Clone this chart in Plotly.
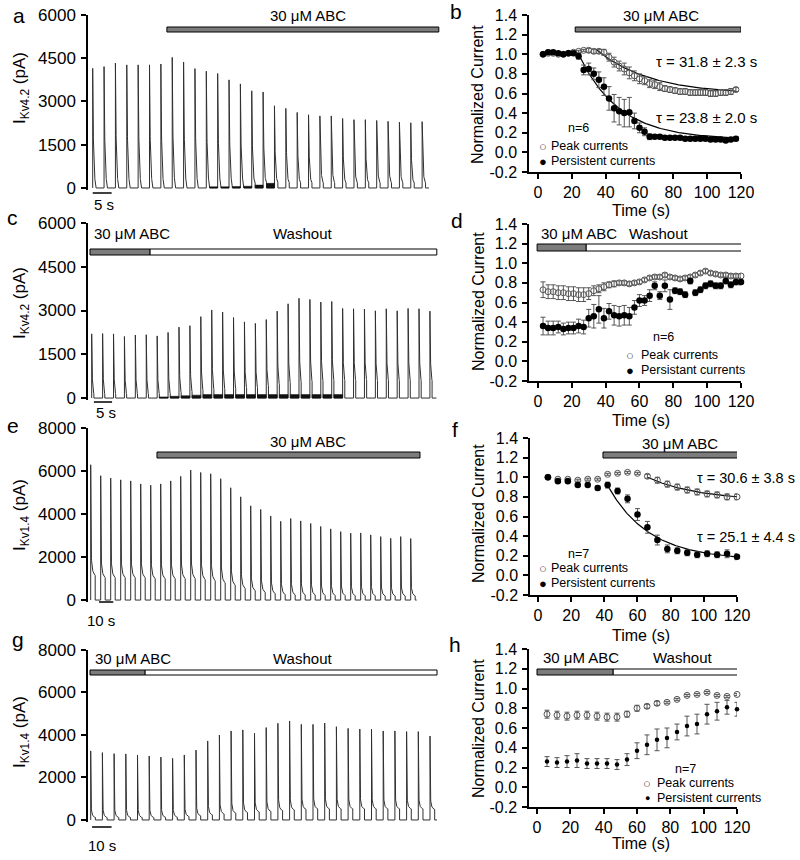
import numpy as np
import plotly.graph_objects as go

W, H = 800, 860
FONT = "Liberation Sans, Arial, Helvetica, sans-serif"
TRACE_COLOR = "#303030"
GRAY = "#7c7c7c"


def X(px):
    return px / W


def Y(py):
    return 1 - py / H


# ======================= DATA =======================
# --- panel a: Kv4.2 current traces (peak / end-of-pulse level per sweep, pA)
a_interval = 3
a_peaks = [4150, 4210, 4330, 4270, 4270, 4270, 4300, 4530, 4370, 4140, 4050, 3970, 3750, 3610, 3370,
           3330, 2850, 2760, 2620, 2540, 2500, 2500, 2410, 2370, 2370, 2340, 2310, 2280, 2260, 2300]
a_persist = [50, 50, 50, 50, 50, 50, 50, 60, 60, 70, 80, 90, 100, 110, 130,
             150, 160, 150, 150, 150, 150, 150, 150, 150, 150, 150, 150, 150, 150, 150]
a_noise = [0, 0, 0, 0, 0, 0, 0, 0, 0, 0, 40, 40, 50, 60, 100,
           160, 0, 0, 0, 0, 0, 0, 0, 0, 0, 0, 0, 0, 0, 0]
a_abc_span = [19.6, 91.4]
a_scale = [0, 5]

# --- panel c: Kv4.2 washout traces
c_interval = 3
c_peaks = [2200, 2210, 2200, 2110, 2160, 2170, 2130, 2250, 2430, 2480, 2790, 3020, 2950, 2760, 2610, 2560,
           2690, 2980, 3230, 3420, 3380, 3290, 3310, 3070, 3060, 3050, 2990, 3060, 2990, 3070, 3060, 2980]
c_persist = [100, 100, 100, 100, 100, 100, 110, 120, 150, 180, 220, 250, 260, 280, 300, 320,
             380, 430, 480, 500, 520, 540, 560, 560, 560, 570, 560, 570, 560, 570, 560, 560]
c_noise = [0, 0, 0, 0, 0, 0, 40, 60, 80, 100, 120, 120, 120, 120, 120, 120,
           120, 120, 120, 120, 120, 120, 120, 0, 0, 0, 0, 0, 0, 0, 0, 0]
c_abc_span = [-0.47, 16.0]
c_wash_span = [16.0, 94.9]
c_scale = [0.6, 5.6]

# --- panel e: Kv1.4 traces
e_interval = 7
e_peaks = [6290, 5780, 5670, 5590, 5540, 5400, 5340, 5400, 5540, 5750, 6040, 5930, 5870, 5640, 5220, 4800, 4380,
           4210, 3910, 3660, 3790, 3680, 3560, 3420, 3310, 3180, 3110, 3120, 3030, 2950, 2870, 2950, 2860]
e_persist = [1100, 1000, 1000, 1000, 1000, 1000, 950, 950, 950, 950, 950, 900, 850, 750, 650, 500, 400,
             320, 260, 220, 200, 200, 200, 180, 180, 180, 170, 170, 170, 160, 160, 160, 160]
e_abc_span = [46.4, 230.5]
e_scale = [5.8, 15.8]

# --- panel g: Kv1.4 washout traces
g_interval = 6
g_peaks = [3250, 3170, 3120, 3110, 3060, 3010, 2960, 2900, 3060, 3290, 3720, 4000, 4190, 4240, 4080,
           4350, 4550, 4660, 4500, 4500, 4560, 4390, 4310, 4280, 4270, 4190, 4190, 4160, 4160, 3950]
g_persist = [100, 100, 100, 100, 100, 100, 110, 120, 150, 180, 220, 260, 300, 330, 360,
             380, 420, 450, 480, 500, 500, 500, 500, 500, 500, 500, 500, 500, 500, 480]
g_abc_span = [-0.36, 27.8]
g_wash_span = [27.8, 177.6]
g_scale = [0.7, 10.7]

# --- panel b: normalized Kv4.2 currents, ABC application
b_time = [3, 6, 9, 12, 15, 18, 21, 24, 27, 30, 33, 36, 39, 42, 45, 48, 51, 54, 57, 60,
          63, 66, 69, 72, 75, 78, 81, 84, 87, 90, 93, 96, 99, 102, 105, 108, 111, 114, 117]
b_peak = [1.00, 1.01, 1.01, 1.00, 1.00, 1.01, 1.02, 1.03, 1.04, 1.04, 1.03, 1.03, 1.02, 0.97, 0.92, 0.88,
          0.85, 0.81, 0.78, 0.75, 0.73, 0.70, 0.69, 0.67, 0.65, 0.64, 0.63, 0.62, 0.62, 0.61, 0.61, 0.61,
          0.61, 0.60, 0.60, 0.61, 0.61, 0.62, 0.64]
b_peak_err = [0.01, 0.01, 0.01, 0.01, 0.01, 0.01, 0.01, 0.01, 0.01, 0.02, 0.02, 0.02, 0.03, 0.04, 0.05,
              0.05, 0.06, 0.06, 0.05, 0.05, 0.04, 0.04, 0.04, 0.04, 0.03, 0.03, 0.03, 0.03, 0.03, 0.03,
              0.03, 0.03, 0.03, 0.03, 0.03, 0.03, 0.03, 0.03, 0.02]
b_pers = [1.00, 1.02, 1.02, 1.01, 1.00, 1.01, 1.01, 0.98, 0.84, 0.85, 0.80, 0.74, 0.67, 0.55, 0.45, 0.42,
          0.40, 0.41, 0.32, 0.25, 0.21, 0.16, 0.16, 0.16, 0.15, 0.15, 0.15, 0.15, 0.14, 0.14, 0.14, 0.14,
          0.14, 0.13, 0.13, 0.13, 0.12, 0.13, 0.14]
b_pers_err = [0.01, 0.01, 0.01, 0.01, 0.01, 0.01, 0.01, 0.03, 0.05, 0.06, 0.06, 0.08, 0.09, 0.12, 0.14,
              0.14, 0.14, 0.15, 0.08, 0.05, 0.04, 0.03, 0.02, 0.02, 0.02, 0.02, 0.02, 0.02, 0.02, 0.02,
              0.02, 0.02, 0.02, 0.02, 0.02, 0.02, 0.02, 0.02, 0.02]
b_abc_span = [22, 120]
b_fit_peak = [35, 117, 0.59, 0.45, 31.8]   # start, end, plateau, amplitude, tau
b_fit_pers = [24, 117, 0.13, 0.87, 23.8]

# --- panel d: normalized Kv4.2 currents, washout
d_time = [3, 6, 9, 12, 15, 18, 21, 24, 27, 30, 33, 36, 39, 42, 45, 48, 51, 54, 57, 60,
          63, 66, 69, 72, 75, 78, 81, 84, 87, 90, 93, 96, 99, 102, 105, 108, 111, 114, 117, 120]
d_peak = [0.73, 0.71, 0.71, 0.70, 0.70, 0.69, 0.69, 0.68, 0.68, 0.69, 0.72, 0.74, 0.76, 0.78, 0.79, 0.80,
          0.80, 0.79, 0.80, 0.81, 0.83, 0.85, 0.86, 0.86, 0.88, 0.86, 0.85, 0.84, 0.85, 0.86, 0.88, 0.90,
          0.92, 0.90, 0.89, 0.88, 0.88, 0.87, 0.87, 0.87]
d_peak_err = [0.08, 0.07, 0.07, 0.07, 0.07, 0.07, 0.07, 0.07, 0.07, 0.06, 0.05, 0.04, 0.04, 0.03, 0.03,
              0.02, 0.02, 0.02, 0.02, 0.02, 0.02, 0.02, 0.02, 0.02, 0.02, 0.02, 0.02, 0.02, 0.02, 0.02,
              0.02, 0.02, 0.02, 0.02, 0.02, 0.02, 0.02, 0.02, 0.02, 0.02]
d_pers = [0.36, 0.34, 0.34, 0.35, 0.33, 0.34, 0.34, 0.36, 0.35, 0.44, 0.46, 0.53, 0.44, 0.51, 0.47, 0.46,
          0.47, 0.46, 0.55, 0.62, 0.62, 0.67, 0.77, 0.67, 0.77, 0.63, 0.72, 0.71, 0.68, 0.82, 0.70, 0.73,
          0.77, 0.79, 0.77, 0.77, 0.82, 0.78, 0.81, 0.81]
d_pers_err = [0.09, 0.07, 0.07, 0.06, 0.06, 0.06, 0.06, 0.07, 0.07, 0.09, 0.12, 0.14, 0.10, 0.08, 0.10,
              0.10, 0.10, 0.09, 0.07, 0.06, 0.05, 0.06, 0.04, 0.04, 0.06, 0.10, 0.03, 0.03, 0.03, 0.03,
              0.03, 0.03, 0.03, 0.03, 0.03, 0.03, 0.03, 0.03, 0.03, 0.03]
d_abc_span = [-0.5, 28.4]
d_wash_span = [28.4, 120.5]

# --- panel f: normalized Kv1.4 currents, ABC application
f_time = [6, 12, 18, 24, 30, 36, 42, 48, 54, 60, 66, 72, 78, 84, 90, 96, 102, 108, 114, 120]
f_peak = [1.00, 0.98, 0.98, 0.97, 0.98, 0.98, 1.03, 1.04, 1.05, 1.04, 1.01, 0.97, 0.93, 0.90, 0.87,
          0.85, 0.83, 0.82, 0.80, 0.80]
f_peak_err = [0.0, 0.01, 0.01, 0.01, 0.01, 0.01, 0.01, 0.01, 0.01, 0.01, 0.02, 0.03, 0.03, 0.03, 0.03,
              0.03, 0.03, 0.03, 0.03, 0.03]
f_pers = [1.00, 0.96, 0.96, 0.92, 0.92, 0.89, 0.92, 0.86, 0.78, 0.62, 0.49, 0.36, 0.27, 0.25, 0.23,
          0.21, 0.22, 0.21, 0.22, 0.19]
f_pers_err = [0.0, 0.01, 0.01, 0.01, 0.01, 0.02, 0.03, 0.03, 0.04, 0.06, 0.06, 0.05, 0.04, 0.03, 0.03,
              0.03, 0.03, 0.03, 0.04, 0.03]
f_abc_span = [39.2, 123.6]
f_fit_peak = [66, 120, 0.76, 0.24, 30.6]
f_fit_pers = [42, 120, 0.155, 0.76, 25.1]

# --- panel h: normalized Kv1.4 currents, washout
h_time = [6, 12, 18, 24, 30, 36, 42, 48, 54, 60, 66, 72, 78, 84, 90, 96, 102, 108, 114, 120]
h_peak = [0.74, 0.73, 0.72, 0.73, 0.73, 0.72, 0.71, 0.71, 0.74, 0.80, 0.82, 0.85, 0.86, 0.89, 0.93,
          0.94, 0.96, 0.93, 0.92, 0.94]
h_peak_err = [0.04, 0.04, 0.04, 0.04, 0.04, 0.04, 0.04, 0.04, 0.03, 0.03, 0.02, 0.02, 0.01, 0.01, 0.01,
              0.01, 0.01, 0.01, 0.01, 0.01]
h_pers = [0.26, 0.25, 0.26, 0.27, 0.24, 0.24, 0.24, 0.23, 0.28, 0.37, 0.43, 0.48, 0.50, 0.56, 0.62,
          0.64, 0.74, 0.77, 0.81, 0.79]
h_pers_err = [0.05, 0.05, 0.06, 0.07, 0.05, 0.05, 0.05, 0.05, 0.06, 0.08, 0.10, 0.11, 0.10, 0.08, 0.10,
              0.10, 0.10, 0.09, 0.07, 0.07]
h_abc_span = [0, 45.6]
h_wash_span = [45.6, 127]

# tick labels
kv42_ticks = [0, 1500, 3000, 4500, 6000]
kv14_ticks = [0, 2000, 4000, 6000, 8000]
norm_ticks = [-0.2, 0.0, 0.2, 0.4, 0.6, 0.8, 1.0, 1.2, 1.4]
norm_ticktext = ["-0.2", "0.0", "0.2", "0.4", "0.6", "0.8", "1.0", "1.2", "1.4"]
time_ticks = [0, 20, 40, 60, 80, 100, 120]


# ======================= HELPERS =======================
def build_sweeps(peaks, persist, interval, pulse_frac, tau_fast, slow_frac, tau_slow):
    grid = pulse_frac * np.linspace(0, 1, 45) ** 2
    shape = (1 - slow_frac) * np.exp(-grid / tau_fast) + slow_frac * np.exp(-grid / tau_slow)
    xs, ys = [], []
    for i, (pk, ps) in enumerate(zip(peaks, persist)):
        t0 = i * interval
        vals = ps + (pk - ps) * shape
        xs += [t0] + list(t0 + grid * interval) + [t0 + pulse_frac * interval, (i + 1) * interval]
        ys += [0] + list(vals) + [0, 0]
    xs[-1] = (len(peaks) - 1) * interval + 0.6 * interval
    return xs, ys


def build_noise(levels, interval, pulse_frac):
    xs, ys = [], []
    for i, lv in enumerate(levels):
        if lv > 0:
            s = i * interval + pulse_frac * interval
            e = (i + 1) * interval
            xs += [s, e, e, s, s, None]
            ys += [0, 0, lv, lv, 0, None]
    return xs, ys


def fit_curve(p):
    start, end, plateau, amp, tau = p
    t = np.linspace(start, end, 120)
    return t, plateau + amp * np.exp(-(t - start) / tau)


def ydom(px_bottom, px_top):
    return [Y(px_bottom), Y(px_top)]


fig = go.Figure()

# ---------------- trace panels ----------------
trace_specs = [
    ("x", "y", a_peaks, a_persist, a_interval, 0.3, 0.07, 0.0, 0.2, a_noise),
    ("x3", "y3", c_peaks, c_persist, c_interval, 0.2, 0.05, 0.0, 0.2, c_noise),
    ("x5", "y5", e_peaks, e_persist, e_interval, 0.45, 0.025, 0.2, 0.15, None),
    ("x7", "y7", g_peaks, g_persist, g_interval, 0.4, 0.02, 0.15, 0.12, None),
]
for xa, ya, pk, ps, itv, pf, tf, sf, ts, noise in trace_specs:
    xs, ys = build_sweeps(pk, ps, itv, pf, tf, sf, ts)
    fig.add_trace(go.Scatter(x=xs, y=ys, mode="lines", xaxis=xa, yaxis=ya, showlegend=False,
                             line=dict(color=TRACE_COLOR, width=1), hoverinfo="skip"))
    if noise is not None:
        nx, ny = build_noise(noise, itv, pf)
        fig.add_trace(go.Scatter(x=nx, y=ny, mode="lines", fill="toself", fillcolor="#111",
                                 xaxis=xa, yaxis=ya, showlegend=False,
                                 line=dict(color="#111", width=0.5), hoverinfo="skip"))

# ---------------- normalized panels ----------------
OPEN = dict(symbol="circle-open", size=6, color="#555", line=dict(width=1, color="#555"))
FILLED = dict(symbol="circle", size=6.5, color="black")
ERR_COL = "#555"


def add_norm(xa, ya, t, peak, peak_err, pers, pers_err, fits, filled_size):
    for fp in fits:
        ft, fy = fit_curve(fp)
        fig.add_trace(go.Scatter(x=ft, y=fy, mode="lines", xaxis=xa, yaxis=ya, showlegend=False,
                                 line=dict(color="black", width=1.2), hoverinfo="skip"))
    fig.add_trace(go.Scatter(x=t, y=peak, mode="markers", xaxis=xa, yaxis=ya, showlegend=False,
                             name="Peak currents", marker=OPEN, cliponaxis=False,
                             error_y=dict(type="data", array=peak_err, color=ERR_COL, thickness=1, width=2.5)))
    fm = dict(FILLED)
    fm["size"] = filled_size
    fig.add_trace(go.Scatter(x=t, y=pers, mode="markers", xaxis=xa, yaxis=ya, showlegend=False,
                             name="Persistent currents", marker=fm, cliponaxis=False,
                             error_y=dict(type="data", array=pers_err, color=ERR_COL, thickness=1, width=2.5)))


add_norm("x2", "y2", b_time, b_peak, b_peak_err, b_pers, b_pers_err, [b_fit_peak, b_fit_pers], 6.5)
add_norm("x4", "y4", d_time, d_peak, d_peak_err, d_pers, d_pers_err, [], 6.5)
add_norm("x6", "y6", f_time, f_peak, f_peak_err, f_pers, f_pers_err, [f_fit_peak, f_fit_pers], 6.5)
add_norm("x8", "y8", h_time, h_peak, h_peak_err, h_pers, h_pers_err, [], 4.5)

# ======================= AXES =======================
TICKF = dict(family=FONT, size=17, color="black")
TICKF2 = dict(family=FONT, size=16, color="black")


def trace_yaxis(dom, rng, ticks):
    return dict(domain=dom, range=rng, tickvals=ticks, showline=True, linecolor="black", linewidth=1.5,
                ticks="outside", ticklen=5, tickwidth=1.5, tickcolor="black", showgrid=False,
                zeroline=False, tickfont=TICKF, ticklabelstandoff=2, automargin=False)


def hidden_x(dom, rng, anchor):
    return dict(domain=dom, range=rng, visible=False, anchor=anchor, automargin=False)


def norm_yaxis(dom, anchor):
    return dict(domain=dom, range=[-0.2, 1.4], tickvals=norm_ticks, ticktext=norm_ticktext, showline=True,
                linecolor="black", linewidth=1.5, ticks="outside", ticklen=5, tickwidth=1.5,
                tickcolor="black", showgrid=False, zeroline=False, tickfont=TICKF2, anchor=anchor,
                ticklabelstandoff=2, automargin=False)


def norm_xaxis(dom, rng, anchor):
    return dict(domain=dom, range=rng, tickvals=time_ticks, showline=True, linecolor="black", linewidth=1.5,
                ticks="outside", ticklen=5, tickwidth=1.5, tickcolor="black", showgrid=False, zeroline=False,
                tickfont=TICKF2, anchor=anchor, ticklabelstandoff=0, automargin=False)


def xr(px_first, ppu, left=88, right=440):
    return [-(px_first - left) / ppu, (right - px_first) / ppu]


layout = dict(
    width=W, height=860, margin=dict(l=0, r=0, t=0, b=0, autoexpand=False),
    paper_bgcolor="white", plot_bgcolor="white", showlegend=False,
    font=dict(family=FONT, color="black"),
    xaxis=hidden_x([X(88), X(440)], xr(92.7, 11.36 / a_interval), "y"),
    yaxis=trace_yaxis(ydom(189.7, 15), [-60, 6000], kv42_ticks),
    xaxis3=hidden_x([X(88), X(440)], xr(91.7, 10.91 / c_interval), "y3"),
    yaxis3=dict(trace_yaxis(ydom(399.8, 223), [-60, 6000], kv42_ticks), anchor="x3"),
    xaxis5=hidden_x([X(88), X(440)], xr(90.7, 10.0 / e_interval), "y5"),
    yaxis5=dict(trace_yaxis(ydom(602.2, 428), [-100, 8000], kv14_ticks), anchor="x5"),
    xaxis7=hidden_x([X(88), X(440)], xr(90.7, 11.7 / g_interval), "y7"),
    yaxis7=dict(trace_yaxis(ydom(822.1, 650), [-100, 8000], kv14_ticks), anchor="x7"),
    xaxis2=norm_xaxis([X(529), X(741)], [-5.3, 120], "y2"),
    yaxis2=norm_yaxis(ydom(172, 15), "x2"),
    xaxis4=norm_xaxis([X(529), X(741)], [-5.3, 120], "y4"),
    yaxis4=norm_yaxis(ydom(381, 224), "x4"),
    xaxis6=norm_xaxis([X(530), X(737)], [-4.8, 120], "y6"),
    yaxis6=norm_yaxis(ydom(595, 438), "x6"),
    xaxis8=norm_xaxis([X(529), X(737)], [-4.8, 120], "y8"),
    yaxis8=norm_yaxis(ydom(807, 649), "x8"),
)
fig.update_layout(**layout)

# ======================= SHAPES =======================
shapes = []


def bar(xref, span, py_top, py_bot, fill):
    shapes.append(dict(type="rect", xref=xref, yref="paper", x0=span[0], x1=span[1],
                       y0=Y(py_bot), y1=Y(py_top), fillcolor=fill, line=dict(color="black", width=1)))


bar("x", a_abc_span, 27, 32, GRAY)
bar("x2", b_abc_span, 27, 32, GRAY)
bar("x3", c_wash_span, 249, 255, "white")
bar("x3", c_abc_span, 249, 255, GRAY)
bar("x4", d_wash_span, 244, 251, "white")
bar("x4", d_abc_span, 244, 251, GRAY)
bar("x5", e_abc_span, 452, 458, GRAY)
bar("x6", f_abc_span, 452, 458, GRAY)
bar("x7", g_wash_span, 670, 675, "white")
bar("x7", g_abc_span, 670, 675, GRAY)
bar("x8", h_wash_span, 669, 675, "white")
bar("x8", h_abc_span, 669, 675, GRAY)

for xref, span, py in [("x", a_scale, 193), ("x3", c_scale, 402), ("x5", e_scale, 602), ("x7", g_scale, 827)]:
    shapes.append(dict(type="line", xref=xref, yref="paper", x0=span[0], x1=span[1], y0=Y(py), y1=Y(py),
                       line=dict(color="black", width=1.5)))

fig.update_layout(shapes=shapes)

# ======================= ANNOTATIONS =======================
ann = []


def txt(text, px, py, size=15, xanchor="center", angle=0, color="black"):
    ann.append(dict(text=text, x=X(px), y=Y(py), xref="paper", yref="paper", showarrow=False,
                    xanchor=xanchor, yanchor="middle", textangle=angle,
                    font=dict(family=FONT, size=size, color=color)))


# panel letters
for letter, px, py in [("a", 19, 15), ("b", 456, 11), ("c", 12, 218), ("d", 457, 221),
                       ("e", 13, 425), ("f", 455, 429), ("g", 18, 639), ("h", 455, 644)]:
    txt(letter, px, py, size=21)

# y titles
txt("I<sub>Kv4.2</sub> (pA)", 21, 88, size=17, angle=-90)
txt("I<sub>Kv4.2</sub> (pA)", 21, 303, size=17, angle=-90)
txt("I<sub>Kv1.4</sub> (pA)", 21, 515, size=17, angle=-90)
txt("I<sub>Kv1.4</sub> (pA)", 21, 732, size=17, angle=-90)
for py in [95, 302, 514, 729]:
    txt("Normalized Current", 478, py, size=16, angle=-90)
for py in [210, 420, 635, 843]:
    txt("Time (s)", 641, py, size=16)

# treatment labels
txt("30 μM ABC", 308, 15)
txt("30 μM ABC", 661, 15)
txt("30 μM ABC", 92, 233, xanchor="left")
txt("Washout", 302, 233)
txt("30 μM ABC", 539, 233, xanchor="left")
txt("Washout", 658, 233)
txt("30 μM ABC", 308, 441)
txt("30 μM ABC", 680, 443)
txt("30 μM ABC", 93, 658, xanchor="left")
txt("Washout", 302, 658)
txt("30 μM ABC", 541, 657, xanchor="left")
txt("Washout", 682, 657)

# scale bar labels
txt("5 s", 92, 204, xanchor="left")
txt("5 s", 94, 413, xanchor="left")
txt("10 s", 85, 620, xanchor="left")
txt("10 s", 86, 845, xanchor="left")

# tau labels
txt("τ = 31.8 ± 2.3 s", 654, 61, xanchor="left")
txt("τ = 23.8 ± 2.0 s", 654, 117, xanchor="left")
txt("τ = 30.6 ± 3.8 s", 695, 478, size=14.5, xanchor="left")
txt("τ = 25.1 ± 4.4 s", 695, 537, size=14.5, xanchor="left")

# n labels
txt("n=6", 578, 128, size=12.5)
txt("n=6", 663, 337, size=12.5)
txt("n=7", 578, 554, size=12.5)
txt("n=7", 685, 769, size=12.5)

# in-panel legends: key glyph + label
legend_items = [
    (543, 146, "○", 13, "#444", "Peak currents", 549),
    (543, 161, "●", 13, "black", "Persistent currents", 549),
    (630, 355, "○", 13, "#444", "Peak currents", 639),
    (630, 370, "●", 13, "black", "Persistant currents", 639),
    (543, 568, "○", 13, "#444", "Peak currents", 549),
    (543, 583, "●", 13, "black", "Persistent currents", 549),
    (647, 783, "○", 13, "#444", "Peak currents", 655),
    (647, 798, "●", 9, "black", "Persistent currents", 655),
]
for mx, my, glyph, gsize, gcol, label, tx in legend_items:
    txt(glyph, mx, my, size=gsize, color=gcol)
    txt(label, tx, my, size=12.5, xanchor="left")

fig.update_layout(annotations=ann)

fig.write_html("out.html", config={"displayModeBar": False},
               post_script="document.body.style.margin='0';document.body.style.overflow='hidden';")
